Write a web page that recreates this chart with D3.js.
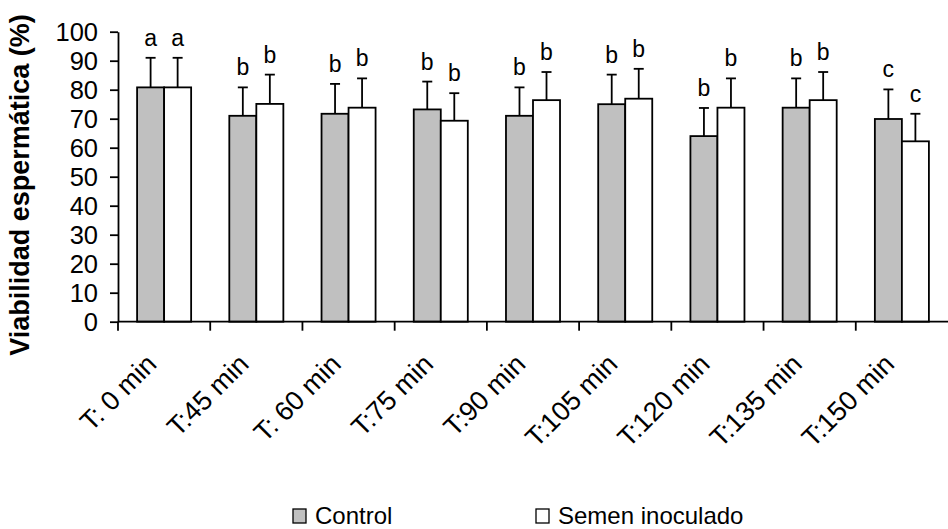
<!DOCTYPE html>
<html>
<head>
<meta charset="utf-8">
<script src="https://cdn.jsdelivr.net/npm/d3@7"></script>
<style>
  body { margin: 0; background: #fff; }
  svg { display: block; font-family: "Liberation Sans", Arial, sans-serif; }
</style>
</head>
<body>
<div id="chart"></div>
<script>
// tiempos de muestreo
const CATEGORIES = ["T: 0 min", "T:45 min", "T: 60 min", "T:75 min", "T:90 min",
  "T:105 min", "T:120 min", "T:135 min", "T:150 min"];
const SERIES = ["Control", "Semen inoculado"];

// viabilidad media (%) y desviacion (solo barra superior)
const CONTROL = [80.8, 71.0, 71.7, 73.2, 71.0, 75.0, 64.0, 73.8, 69.9];
const INOCULADO = [80.8, 75.1, 73.8, 69.3, 76.4, 76.9, 73.8, 76.4, 62.2];
const CONTROL_ERR = [10.2, 9.8, 10.3, 9.6, 9.8, 10.2, 9.7, 10.1, 10.2];
const INOCULADO_ERR = [10.2, 10.1, 10.1, 9.5, 9.7, 10.3, 10.1, 9.7, 9.5];
const CONTROL_LETTERS = ["a", "b", "b", "b", "b", "b", "b", "b", "c"];
const INOCULADO_LETTERS = ["a", "b", "b", "b", "b", "b", "b", "b", "c"];

const Y_TICKS = [0, 10, 20, 30, 40, 50, 60, 70, 80, 90, 100];
const COLORS = ["#c0c0c0", "#ffffff"];

const renderChart = ({ element, width, height }) => {
  const x = d3.scaleBand().domain(CATEGORIES).range([118, 948]);
  const x1 = d3.scaleBand().domain(SERIES)
    .range([x.bandwidth() * 0.207, x.bandwidth() * 0.793]);
  const y = d3.scaleLinear().domain([0, 100]).range([321.7, 31.7]);

  const rows = CATEGORIES.map((c, i) => ({
    cat: c,
    bars: [
      { s: SERIES[0], v: CONTROL[i], e: CONTROL_ERR[i], l: CONTROL_LETTERS[i] },
      { s: SERIES[1], v: INOCULADO[i], e: INOCULADO_ERR[i], l: INOCULADO_LETTERS[i] },
    ],
  }));

  const svg = d3.select(element)
    .append("svg")
    .attr("width", width)
    .attr("height", height);

  const groups = svg.selectAll("g.cat")
    .data(rows)
    .join("g")
    .attr("class", "cat")
    .attr("transform", (d) => `translate(${x(d.cat)},0)`);

  const bar = groups.selectAll("g.bar")
    .data((d) => d.bars)
    .join("g")
    .attr("class", "bar");

  // barras de error (solo hacia arriba)
  bar.append("line")
    .attr("x1", (d) => x1(d.s) + x1.bandwidth() / 2)
    .attr("x2", (d) => x1(d.s) + x1.bandwidth() / 2)
    .attr("y1", (d) => y(d.v))
    .attr("y2", (d) => y(d.v + d.e))
    .attr("stroke", "#000")
    .attr("stroke-width", 1.8);

  bar.append("line")
    .attr("x1", (d) => x1(d.s) + x1.bandwidth() / 2 - 5)
    .attr("x2", (d) => x1(d.s) + x1.bandwidth() / 2 + 5)
    .attr("y1", (d) => y(d.v + d.e))
    .attr("y2", (d) => y(d.v + d.e))
    .attr("stroke", "#000")
    .attr("stroke-width", 1.8);

  bar.append("rect")
    .attr("x", (d) => x1(d.s))
    .attr("y", (d) => y(d.v))
    .attr("width", x1.bandwidth())
    .attr("height", (d) => y(0) - y(d.v))
    .attr("fill", (d) => COLORS[SERIES.indexOf(d.s)])
    .attr("stroke", "#000")
    .attr("stroke-width", 1.8);

  bar.append("text")
    .attr("x", (d) => x1(d.s) + x1.bandwidth() / 2)
    .attr("y", (d) => y(d.v + d.e) - 12)
    .attr("text-anchor", "middle")
    .attr("font-size", 23)
    .text((d) => d.l);

  // eje Y
  const yAxis = svg.append("g")
    .attr("transform", "translate(118,0)")
    .call(d3.axisLeft(y).tickValues(Y_TICKS).tickSize(8).tickSizeOuter(0).tickPadding(12));
  yAxis.selectAll("text").attr("font-size", 25.5).attr("fill", "#000").attr("dy", "0.35em");
  yAxis.selectAll("line, path").attr("stroke", "#000").attr("stroke-width", 1.8);
  yAxis.attr("font-family", null).attr("font-size", null);

  // eje X: marcas entre categorias
  const xAxis = svg.append("g");
  xAxis.append("line")
    .attr("x1", x.range()[0]).attr("x2", x.range()[1])
    .attr("y1", y(0)).attr("y2", y(0))
    .attr("stroke", "#000").attr("stroke-width", 1.8);
  xAxis.selectAll("line.tick")
    .data(CATEGORIES)
    .join("line")
    .attr("class", "tick")
    .attr("x1", (d) => x(d)).attr("x2", (d) => x(d))
    .attr("y1", y(0)).attr("y2", y(0) + 9)
    .attr("stroke", "#000").attr("stroke-width", 1.8);
  xAxis.selectAll("text")
    .data(CATEGORIES)
    .join("text")
    .attr("transform", (d) => `translate(${x(d) + x.bandwidth() / 2 - 6},${y(0) + 44}) rotate(-45)`)
    .attr("text-anchor", "end")
    .attr("font-size", 27)
    .text((d) => d);

  // titulo eje Y
  svg.append("text")
    .attr("transform", `translate(29,${185}) rotate(-90)`)
    .attr("text-anchor", "middle")
    .attr("font-size", 27)
    .attr("font-weight", "bold")
    .text("Viabilidad espermática (%)");

  // leyenda
  const legendX = [293, 536];
  const legend = svg.selectAll("g.legend")
    .data(SERIES)
    .join("g")
    .attr("class", "legend")
    .attr("transform", (d, i) => `translate(${legendX[i]},509)`);
  legend.append("rect")
    .attr("width", 13).attr("height", 14)
    .attr("fill", (d, i) => COLORS[i])
    .attr("stroke", "#000").attr("stroke-width", 1.3);
  legend.append("text")
    .attr("x", 22).attr("y", 15)
    .attr("font-size", 24)
    .text((d) => d);

  return svg;
};

renderChart({ element: "#chart", width: 948, height: 529 });
</script>
</body>
</html>
